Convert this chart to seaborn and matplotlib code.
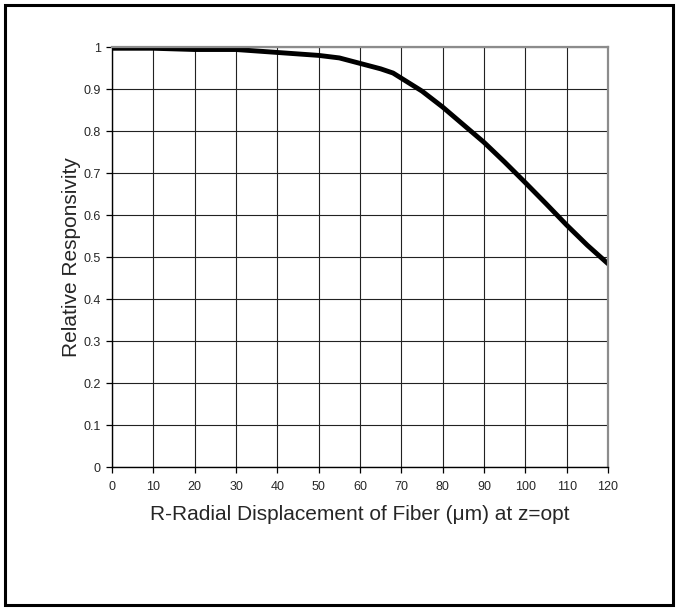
import matplotlib
matplotlib.use("Agg")
import matplotlib.pyplot as plt
import seaborn as sns
import pandas as pd
from matplotlib.patches import Rectangle

# Values
displacement = [0, 10, 20, 30, 40, 50, 55, 60, 65, 68, 75, 80, 85, 90, 95, 100, 105, 110, 115, 120]
responsivity = [0.997, 0.997, 0.994, 0.994, 0.987, 0.980, 0.974, 0.961, 0.948, 0.938,
                0.895, 0.857, 0.815, 0.773, 0.726, 0.677, 0.627, 0.576, 0.528, 0.484]
x_ticks = [0, 10, 20, 30, 40, 50, 60, 70, 80, 90, 100, 110, 120]
y_ticks = [0, 0.1, 0.2, 0.3, 0.4, 0.5, 0.6, 0.7, 0.8, 0.9, 1]
y_tick_labels = ["0", "0.1", "0.2", "0.3", "0.4", "0.5", "0.6", "0.7", "0.8", "0.9", "1"]

df = pd.DataFrame({"r": displacement, "resp": responsivity})

sns.set_style("white")
plt.rcParams["font.family"] = ["Liberation Sans", "DejaVu Sans"]

fig = plt.figure(figsize=(6.76, 6.08), dpi=100)
# plot area: x 112..608 px, y 47..467 px
ax = fig.add_axes([112 / 676, 1 - 467 / 608, 496 / 676, 420 / 608])

sns.lineplot(data=df, x="r", y="resp", color="black", linewidth=3.5, ax=ax)

ax.set_xlim(0, 120)
ax.set_ylim(0, 1)
ax.set_xticks(x_ticks)
ax.set_yticks(y_ticks)
ax.set_yticklabels(y_tick_labels)

# Excel-like grid
ax.grid(True, color="#222222", linewidth=0.8)
ax.set_axisbelow(True)
for side in ["left", "bottom"]:
    ax.spines[side].set_color("black")
    ax.spines[side].set_linewidth(1.0)
for side in ["top", "right"]:
    ax.spines[side].set_color("#8c8c8c")
    ax.spines[side].set_linewidth(1.6)

ax.tick_params(axis="both", which="both", direction="out", length=4, width=0.9,
               color="black", labelsize=9, left=True, bottom=True)
ax.tick_params(axis="x", pad=6)
ax.tick_params(axis="y", pad=4)

ax.set_xlabel("R-Radial Displacement of Fiber (\u03bcm) at z=opt", fontsize=15)
ax.set_ylabel("Relative Responsivity", fontsize=15)
ax.xaxis.set_label_coords(0.5, -(515 - 467) / 420)
ax.xaxis.label.set_va("center")
ax.yaxis.set_label_coords((71 - 112) / 496, 0.5)
ax.yaxis.label.set_va("center")

# outer frame of the chart area
fig.add_artist(Rectangle((4.5 / 676, 1 - 604.5 / 608), (672.5 - 4.5) / 676, (604.5 - 4.5) / 608,
                         transform=fig.transFigure, fill=False, edgecolor="black",
                         linewidth=2.2))

fig.savefig("out.png", dpi=100)
